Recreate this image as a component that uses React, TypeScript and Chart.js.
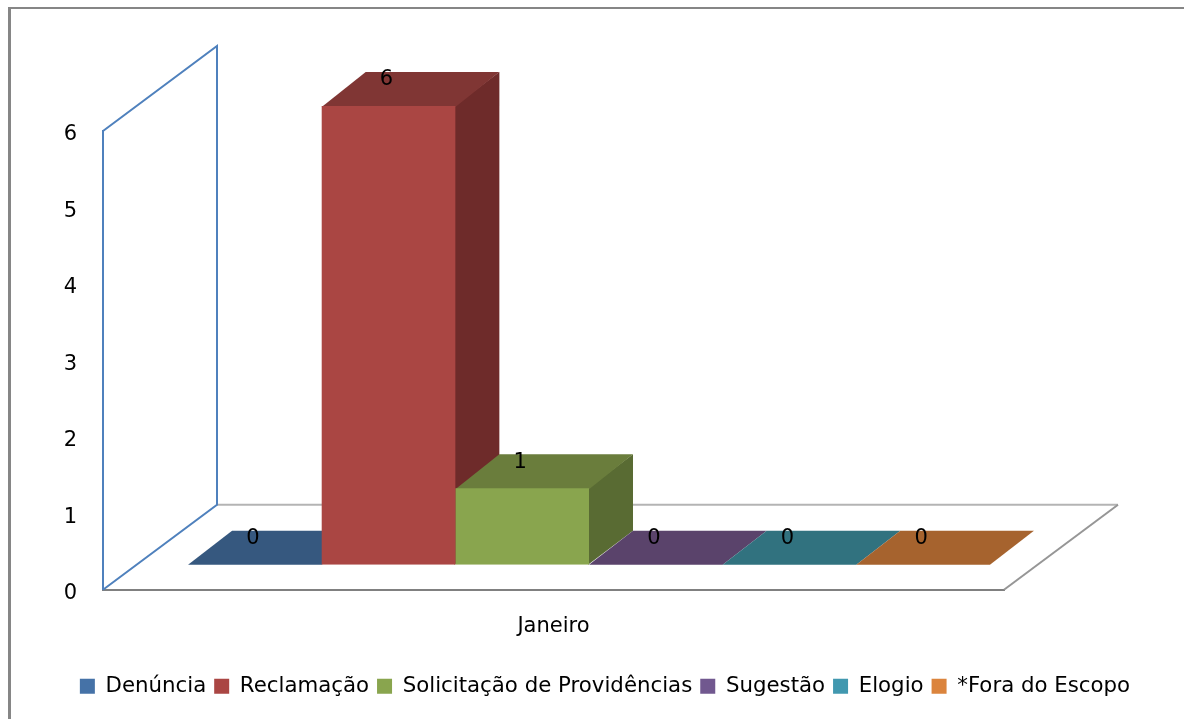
import React, { useEffect, useRef } from "react";
import { Chart, registerables } from "chart.js";

Chart.register(...registerables);

const categories = ["Janeiro"];
const seriesNames = ["Denúncia", "Reclamação", "Solicitação de Providências", "Sugestão", "Elogio", "*Fora do Escopo"];
const seriesValues = [[0], [6], [1], [0], [0], [0]];
const frontColors = ["#4572A7", "#AA4643", "#89A54E", "#71588F", "#4198AF", "#DB843D"];
const topColors = ["#36587F", "#803634", "#6A7D3C", "#5A436B", "#31727F", "#A6632E"];
const sideColors = ["#2C4866", "#6E2B2A", "#596B33", "#49365A", "#285D68", "#8A5126"];
const yTicks = [0, 1, 2, 3, 4, 5, 6];

const FONT = "'DejaVu Sans'";
const FLOOR_DX = 114, FLOOR_DY = 85;
const SHIFT_X = 35.5, SHIFT_Y = 25;
const BAR_DX = 44, BAR_DY = 34;

const poly = (ctx: CanvasRenderingContext2D, pts: number[][], fill: string) => {
  ctx.beginPath();
  pts.forEach(([x, y], i) => (i ? ctx.lineTo(x, y) : ctx.moveTo(x, y)));
  ctx.closePath();
  ctx.fillStyle = fill;
  ctx.fill();
};

const line = (ctx: CanvasRenderingContext2D, pts: number[][], color: string, w = 2) => {
  ctx.beginPath();
  pts.forEach(([x, y], i) => (i ? ctx.lineTo(x, y) : ctx.moveTo(x, y)));
  ctx.strokeStyle = color;
  ctx.lineWidth = w;
  ctx.stroke();
};

const plugin3d = {
  id: "plugin3d",
  beforeDraw(chart: any) {
    const ctx = chart.ctx;
    ctx.save();
    ctx.fillStyle = "#FFFFFF";
    ctx.fillRect(0, 0, chart.width, chart.height);
    ctx.fillStyle = "#868686";
    ctx.fillRect(8, 7, chart.width - 8, 2);
    ctx.fillRect(8, 7, 3, chart.height - 7);
    ctx.restore();
  },
  beforeDatasetsDraw(chart: any) {
    const ctx = chart.ctx;
    const { left, right, top, bottom } = chart.chartArea;
    ctx.save();
    const blue = "#4F81BD";
    line(ctx, [[left + FLOOR_DX, bottom - FLOOR_DY], [right + FLOOR_DX, bottom - FLOOR_DY]], "#B4B4B4", 2);
    line(ctx, [[right, bottom], [right + FLOOR_DX, bottom - FLOOR_DY]], "#969696", 2);
    line(ctx, [[left, bottom], [left + FLOOR_DX, bottom - FLOOR_DY], [left + FLOOR_DX, top - FLOOR_DY], [left, top]], blue, 2);
    seriesValues.forEach((_, i) => {
      const bar = chart.getDatasetMeta(i).data[0];
      const l = bar.x - bar.width / 2 + SHIFT_X;
      const r = bar.x + bar.width / 2 + SHIFT_X;
      const t = bar.y - SHIFT_Y;
      const b = bar.base - SHIFT_Y;
      if (b - t > 0.5) {
        poly(ctx, [[r - 1, t], [r + BAR_DX, t - BAR_DY], [r + BAR_DX, b - BAR_DY], [r - 1, b]], sideColors[i]);
        poly(ctx, [[l, t + 1], [l + BAR_DX, t - BAR_DY], [r + BAR_DX, t - BAR_DY], [r, t + 1]], topColors[i]);
      } else {
        poly(ctx, [[l, t], [l + BAR_DX, t - BAR_DY], [r + BAR_DX, t - BAR_DY], [r, t]], topColors[i]);
      }
    });
    ctx.restore();
    ctx.save();
    ctx.translate(SHIFT_X, -SHIFT_Y);
  },
  afterDatasetsDraw(chart: any) {
    const ctx = chart.ctx;
    ctx.restore();
    ctx.save();
    ctx.fillStyle = "#000000";
    ctx.font = `21px ${FONT}`;
    ctx.textAlign = "center";
    ctx.textBaseline = "middle";
    seriesValues.forEach((vals, i) => {
      const bar = chart.getDatasetMeta(i).data[0];
      ctx.fillText(String(vals[0]), bar.x + SHIFT_X - 2, bar.y - SHIFT_Y - 26);
    });
    ctx.restore();
  },
};

export default function App() {
  const ref = useRef<HTMLCanvasElement>(null);
  useEffect(() => {
    document.body.style.background = "#FFFFFF";
    const chart = new Chart(ref.current!, {
      type: "bar",
      plugins: [plugin3d],
      data: {
        labels: categories,
        datasets: seriesNames.map((label, i) => ({
          label,
          data: seriesValues[i],
          backgroundColor: frontColors[i],
          borderWidth: 0,
          categoryPercentage: 0.89,
          barPercentage: 1,
        })),
      },
      options: {
        responsive: false,
        animation: false,
        devicePixelRatio: 1,
        layout: { padding: { left: 26, right: 0, top: 131, bottom: 12 } },
        plugins: {
          tooltip: { enabled: false },
          title: { display: false },
          legend: {
            display: true,
            position: "bottom",
            labels: {
              boxWidth: 15,
              boxHeight: 15,
              padding: 8,
              color: "#000000",
              font: { family: FONT, size: 21.3 },
            },
          },
        },
        scales: {
          x: {
            grid: { display: false, drawTicks: false },
            border: { display: true, color: "#808080", width: 2 },
            ticks: { color: "#000000", padding: 24, font: { family: FONT, size: 21 } },
            afterFit: (s: any) => { s.height = 78; },
          },
          y: {
            min: 0,
            max: 6,
            grid: { display: false, drawTicks: false },
            border: { display: true, color: "#4F81BD", width: 2 },
            ticks: {
              color: "#000000",
              padding: 26,
              stepSize: 1,
              labelOffset: 4,
              font: { family: FONT, size: 21 },
              callback: (v: any) => (yTicks.includes(v) ? String(v) : ""),
            },
            afterFit: (s: any) => { s.width = 77; },
          },
          y2: {
            position: "right",
            display: true,
            grid: { display: false, drawTicks: false },
            border: { display: false },
            ticks: { display: false },
            afterFit: (s: any) => { s.width = 180; },
          },
        },
      },
    } as any);
    return () => chart.destroy();
  }, []);
  return (
    <div style={{ position: "fixed", left: 0, top: 0, width: 1184, height: 719 }}>
      <canvas ref={ref} width={1184} height={719} style={{ display: "block" }} />
    </div>
  );
}
